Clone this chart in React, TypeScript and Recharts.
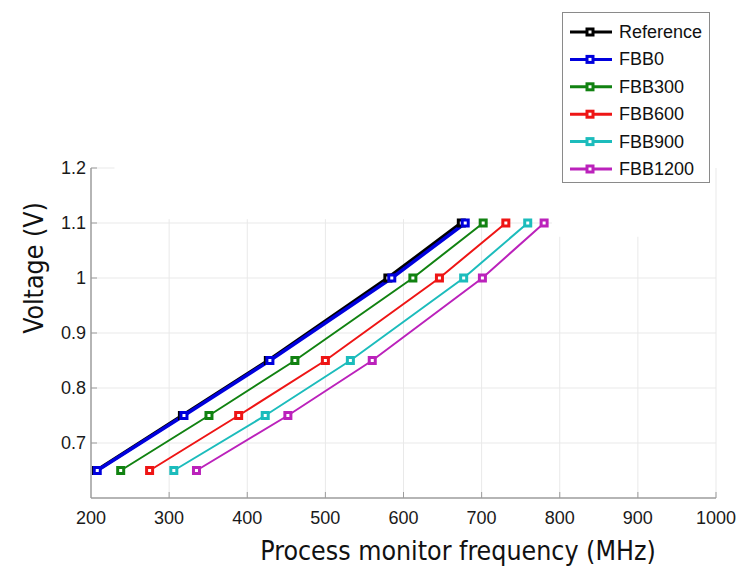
import React from 'react';
import { LineChart, Line, XAxis, YAxis, ReferenceLine, Label } from 'recharts';

const voltages = [0.65, 0.75, 0.85, 1.0, 1.1];
const referenceFreq = [207, 317, 427, 580, 674];
const fbb0Freq = [208, 319, 429, 585, 679];
const fbb300Freq = [238, 351, 461, 612, 702];
const fbb600Freq = [275, 389, 500, 646, 731];
const fbb900Freq = [306, 423, 532, 677, 759];
const fbb1200Freq = [335, 452, 560, 701, 780];

const seriesNames = ['Reference', 'FBB0', 'FBB300', 'FBB600', 'FBB900', 'FBB1200'];
const seriesValues = [referenceFreq, fbb0Freq, fbb300Freq, fbb600Freq, fbb900Freq, fbb1200Freq];
const seriesColors = ['#000000', '#0000dd', '#118211', '#ee1515', '#1cbcbc', '#bb22bb'];
const seriesWidths = [3.5, 3.5, 2, 2, 2, 2];

const xTicks = [200, 300, 400, 500, 600, 700, 800, 900, 1000];
const yTicks = [0.7, 0.8, 0.9, 1, 1.1, 1.2];

const xTitle = 'Process monitor frequency (MHz)';
const yTitle = 'Voltage (V)';

const series = seriesNames.map((name, i) => ({
  name,
  color: seriesColors[i],
  width: seriesWidths[i],
  data: voltages.map((v, j) => ({ f: seriesValues[i][j], v })),
}));

const TICK_FONT = '"Liberation Sans", Arial, sans-serif';
const TITLE_FONT = '"DejaVu Sans Condensed", "DejaVu Sans", sans-serif';
const AXIS_COLOR = '#9c9c9c';
const GRID_COLOR = '#e9e9e9';

const XTick = (props: any) => {
  const { x, y, payload } = props;
  return (
    <g>
      {payload.value !== 200 && (
        <line x1={x} x2={x} y1={y} y2={y - 6} stroke={AXIS_COLOR} strokeWidth={1} />
      )}
      <text x={x} y={y + 20} textAnchor="middle" dominantBaseline="central" fontFamily={TICK_FONT} fontSize={18} fill="#1a1a1a">
        {payload.value}
      </text>
    </g>
  );
};

const YTick = (props: any) => {
  const { x, y, payload } = props;
  return (
    <g>
      <line x1={x} x2={x + 6} y1={y} y2={y} stroke={AXIS_COLOR} strokeWidth={1} />
      <text x={x - 5} y={y} textAnchor="end" dominantBaseline="central" fontFamily={TICK_FONT} fontSize={18} fill="#1a1a1a">
        {String(payload.value)}
      </text>
    </g>
  );
};

const makeDot = (color: string) => (props: any) => {
  const { cx, cy, index } = props;
  if (cx == null || cy == null) return <g key={index} />;
  return (
    <g key={index}>
      <rect x={cx - 3} y={cy - 3} width={6} height={6} fill="#ffffff" stroke={color} strokeWidth={3} />
    </g>
  );
};

const XTitle = () => (
  <text x={458} y={560} textAnchor="middle" fontFamily={TITLE_FONT} fontSize={26.5} fill="#111">
    {xTitle}
  </text>
);

const YTitle = () => (
  <text x={43} y={268} textAnchor="middle" fontFamily={TITLE_FONT} fontSize={26.5} fill="#111" transform="rotate(-90 43 268)">
    {yTitle}
  </text>
);

const Legend = () => (
  <div
    style={{
      position: 'absolute',
      left: 562,
      top: 12,
      width: 146,
      height: 169,
      border: '1px solid #8a8a8a',
      background: '#ffffff',
    }}
  >
    <svg width={146} height={169}>
      {series.map((s, i) => {
        const cy = 19 + i * 27.4;
        return (
          <g key={s.name}>
            <line x1={7} x2={49} y1={cy} y2={cy} stroke={s.color} strokeWidth={3} />
            <rect x={24} y={cy - 3} width={6} height={6} fill="#ffffff" stroke={s.color} strokeWidth={3} />
            <text x={56} y={cy} dominantBaseline="central" fontFamily={TICK_FONT} fontSize={18} fill="#111">
              {s.name}
            </text>
          </g>
        );
      })}
    </svg>
  </div>
);

export default function App() {
  return (
    <div style={{ position: 'absolute', left: 0, top: 0, width: 753, height: 566, background: '#fff' }}>
      <LineChart width={753} height={566} margin={{ top: 168, right: 37, bottom: 0, left: 0 }}>
        <XAxis
          type="number"
          dataKey="f"
          domain={[200, 1000]}
          ticks={xTicks}
          interval={0}
          allowDataOverflow
          height={68}
          tickSize={0}
          tickMargin={0}
          tick={<XTick />}
          axisLine={{ stroke: AXIS_COLOR, strokeWidth: 1.5 }}
          tickLine={false}
        >
          <Label content={<XTitle />} />
        </XAxis>
        <YAxis
          type="number"
          dataKey="v"
          domain={[0.6, 1.2]}
          ticks={yTicks}
          interval={0}
          allowDataOverflow
          width={91}
          tickSize={0}
          tickMargin={0}
          tick={<YTick />}
          axisLine={{ stroke: AXIS_COLOR, strokeWidth: 1.5 }}
          tickLine={false}
        >
          <Label content={<YTitle />} />
        </YAxis>

        {[300, 400, 500, 600, 700].map((t) => (
          <ReferenceLine key={'vx' + t} segment={[{ x: t, y: 0.6 }, { x: t, y: 1.107 }]} stroke={GRID_COLOR} strokeWidth={1} />
        ))}
        {[800, 900].map((t) => (
          <ReferenceLine key={'vx' + t} segment={[{ x: t, y: 0.6 }, { x: t, y: 1.075 }]} stroke={GRID_COLOR} strokeWidth={1} />
        ))}
        <ReferenceLine segment={[{ x: 1000, y: 0.6 }, { x: 1000, y: 1.2 }]} stroke={GRID_COLOR} strokeWidth={1} />
        {[0.7, 0.8, 0.9, 1].map((t) => (
          <ReferenceLine key={'hy' + t} segment={[{ x: 200, y: t }, { x: 1000, y: t }]} stroke={GRID_COLOR} strokeWidth={1} />
        ))}
        <ReferenceLine segment={[{ x: 200, y: 1.1 }, { x: 790, y: 1.1 }]} stroke={GRID_COLOR} strokeWidth={1} />
        <ReferenceLine segment={[{ x: 200, y: 1.2 }, { x: 230, y: 1.2 }]} stroke={GRID_COLOR} strokeWidth={1} />

        {series.map((s) => (
          <Line
            key={s.name}
            data={s.data}
            dataKey="v"
            name={s.name}
            type="linear"
            stroke={s.color}
            strokeWidth={s.width}
            dot={makeDot(s.color)}
            activeDot={false}
            isAnimationActive={false}
          />
        ))}
      </LineChart>
      <Legend />
    </div>
  );
}
